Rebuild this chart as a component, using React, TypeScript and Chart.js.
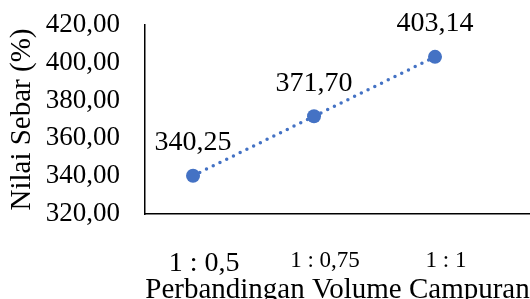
import React, { useEffect, useRef } from "react";
import { Chart, registerables } from "chart.js";

Chart.register(...registerables);

const categories = ["1 : 0,5", "1 : 0,75", "1 : 1"];
const values = [340.25, 371.7, 403.14];
const yMin = 320;
const yMax = 420;
const yStep = 20;
const xTitle = "Perbandingan Volume Campuran";
const yTitle = "Nilai Sebar (%)";

const FONT = "'Liberation Serif', 'Times New Roman', serif";
const BLUE = "#4472C4";

const fmt = (v: number) => v.toFixed(2).replace(".", ",");

const labelPlugin = {
  id: "pointLabels",
  afterDatasetsDraw(chart: any) {
    const ctx = chart.ctx;
    const meta = chart.getDatasetMeta(0);
    ctx.save();
    ctx.font = `28px ${FONT}`;
    ctx.fillStyle = "#000";
    ctx.textAlign = "center";
    ctx.textBaseline = "middle";
    meta.data.forEach((pt: any, i: number) => {
      ctx.fillText(fmt(values[i]), pt.x, pt.y - 33);
    });
    ctx.restore();
  },
};

export default function App() {
  const ref = useRef<HTMLCanvasElement>(null);
  useEffect(() => {
    if (!ref.current) return;
    const chart = new Chart(ref.current, {
      type: "line",
      data: {
        datasets: [
          {
            data: values.map((v, i) => ({ x: i, y: v })),
            borderColor: BLUE,
            backgroundColor: BLUE,
            borderWidth: 3.5,
            borderDash: [0, 7.5],
            borderCapStyle: "round",
            pointRadius: 7,
            pointBackgroundColor: BLUE,
            pointBorderColor: BLUE,
            pointBorderWidth: 0,
            tension: 0,
            clip: false,
          },
        ],
      },
      options: {
        animation: false,
        responsive: false,
        maintainAspectRatio: false,
        layout: { autoPadding: false, padding: { top: 25, right: 0, left: 0, bottom: 0 } },
        plugins: {
          legend: { display: false },
          tooltip: { enabled: false },
        },
        scales: {
          x: {
            type: "linear",
            min: -0.397,
            max: 2.785,
            afterBuildTicks: (scale: any) => {
              scale.ticks = categories.map((_, i) => ({ value: i }));
            },
            afterFit: (scale: any) => {
              scale.height = 85;
              scale.paddingLeft = 0;
              scale.paddingRight = 0;
            },
            grid: { display: false, drawTicks: false },
            border: { display: true, color: "#000", width: 1.5 },
            ticks: {
              color: "#000",
              padding: 33,
              labelOffset: 11,
              maxRotation: 0,
              autoSkip: false,
              font: (ctx: any) => ({ family: FONT, size: ctx.index === 0 ? 28 : 23 }),
              callback: (v: any) => categories[v] ?? "",
            },
            title: {
              display: true,
              text: xTitle,
              color: "#000",
              font: { family: FONT, size: 29 },
              padding: { top: 0, bottom: -9 },
            },
          },
          y: {
            min: yMin,
            max: yMax,
            afterFit: (scale: any) => {
              scale.width = 145;
              scale.paddingTop = 0;
              scale.paddingBottom = 0;
            },
            grid: { display: false, drawTicks: false },
            border: { display: true, color: "#000", width: 1.5 },
            ticks: {
              stepSize: yStep,
              autoSkip: false,
              color: "#000",
              padding: 25,
              font: { family: FONT, size: 27 },
              callback: (v: any) => fmt(Number(v)),
            },
            title: {
              display: true,
              text: yTitle,
              color: "#000",
              font: { family: FONT, size: 29 },
              padding: { top: 5, bottom: 0 },
            },
          },
        },
      },
      plugins: [labelPlugin],
    } as any);
    return () => chart.destroy();
  }, []);
  return (
    <div style={{ position: "absolute", left: 0, top: 0, width: 530, height: 299, background: "#fff" }}>
      <canvas ref={ref} width={530} height={299} style={{ width: 530, height: 299 }} />
    </div>
  );
}
